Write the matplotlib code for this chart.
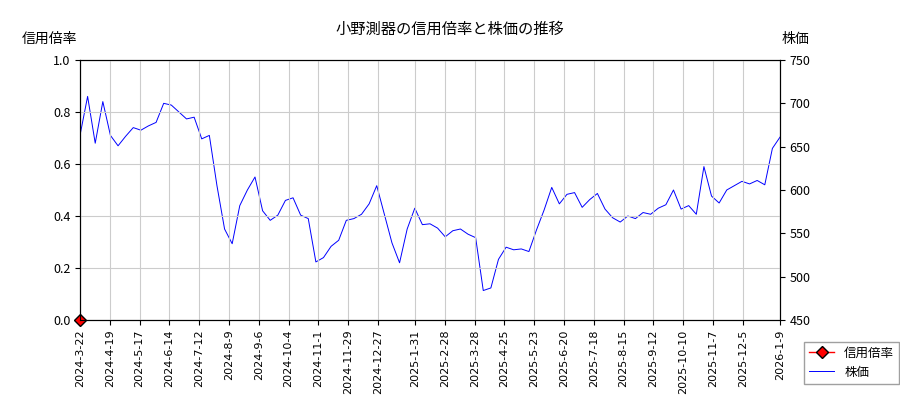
import numpy as np
import pandas as pd
import matplotlib
matplotlib.use("Agg")
import matplotlib.pyplot as plt

plt.rcParams['font.family'] = ['Noto Sans CJK JP', 'DejaVu Sans']

# 株価 (weekly)
price = [663, 708, 654, 702, 663, 651, 662, 672, 669, 674, 678, 700, 698, 690,
         682, 684, 659, 663, 605, 555, 538, 582, 600, 615, 576, 565, 571, 588,
         591, 571, 567, 517, 522, 535, 542, 565, 567, 572, 584, 605, 572, 539,
         516, 555, 579, 560, 561, 556, 546, 553, 555, 549, 545, 484, 487, 520,
         534, 531, 532, 529, 554, 577, 603, 584, 595, 597, 580, 589, 596, 578,
         568, 563, 570, 567, 574, 572, 579, 583, 600, 578, 582, 572, 627, 593,
         585, 600, 605, 610, 607, 611, 606, 648, 661]
dates = pd.date_range("2024-03-22", "2026-01-09", periods=len(price))

ratio_dates = [pd.Timestamp("2024-03-22")]
ratio = [0.0]

tick_labels = ["2024-3-22", "2024-4-19", "2024-5-17", "2024-6-14", "2024-7-12",
               "2024-8-9", "2024-9-6", "2024-10-4", "2024-11-1", "2024-11-29",
               "2024-12-27", "2025-1-31", "2025-2-28", "2025-3-28", "2025-4-25",
               "2025-5-23", "2025-6-20", "2025-7-18", "2025-8-15", "2025-9-12",
               "2025-10-10", "2025-11-7", "2025-12-5", "2026-1-9"]
ticks = pd.to_datetime(tick_labels)

fig = plt.figure(figsize=(9, 4), dpi=100)
ax = fig.add_axes([80/900, 80/400, 700/900, 260/400])
ax2 = ax.twinx()

l1, = ax.plot(ratio_dates, ratio, color="red", marker="D", markersize=6,
              markeredgecolor="black", linewidth=1, label="信用倍率", clip_on=False)
l2, = ax2.plot(dates, price, color="blue", linewidth=0.7, label="株価")

ax.set_ylim(0, 1)
ax.set_yticks(np.arange(0, 1.01, 0.2))
ax2.set_ylim(450, 750)
ax.set_xlim(ticks[0], ticks[-1])
ax.set_xticks(ticks)
ax.set_xticklabels(tick_labels, rotation=90, fontsize=8, family="DejaVu Sans")
ax.tick_params(axis="y", labelsize=9)
ax2.tick_params(axis="y", labelsize=9)
ax.grid(True, color="#cccccc", linewidth=0.8)
ax.set_zorder(ax2.get_zorder() + 1)
ax.patch.set_visible(False)

fig.text(0.5, 0.915, "小野測器の信用倍率と株価の推移", ha="center", fontsize=11)
fig.text(50/900, 0.893, "信用倍率", ha="center", fontsize=10)
fig.text(795/900, 0.893, "株価", ha="center", fontsize=10)

fig.legend([l1, l2], ["信用倍率", "株価"], loc="lower left",
           bbox_to_anchor=(798/900, 10/400), fontsize=9, fancybox=False,
           edgecolor="#888888")

fig.savefig("out.png")
